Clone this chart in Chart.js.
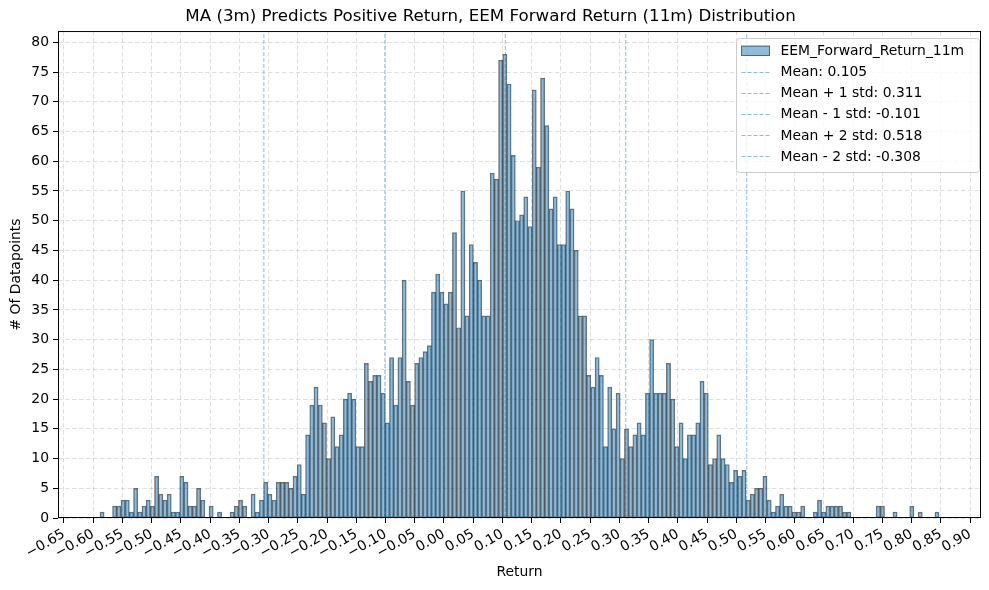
<!DOCTYPE html>
<html>
<head>
<meta charset="utf-8">
<script src="https://cdn.jsdelivr.net/npm/chart.js@4.4.1/dist/chart.umd.min.js"></script>
<style>
    html, body { margin: 0; padding: 0; background: #fff; }
    #wrap { width: 989px; height: 590px; position: relative; }
</style>
</head>
<body>
<div id="wrap"><canvas id="chart"></canvas></div>
<script>
// 直方图：200 个分箱，从最小值开始等宽
const histLabel = 'EEM_Forward_Return_11m';
const binStart = -0.5884;
const binWidth = 0.007177;
const binCounts = [
    1, 0, 0, 2, 2, 3, 3, 1, 5, 1, 2, 3, 2, 7, 4, 3, 4, 1, 1, 7,
    6, 2, 2, 5, 3, 0, 2, 0, 1, 0, 0, 1, 2, 3, 2, 0, 4, 1, 3, 6,
    4, 3, 6, 6, 6, 5, 7, 9, 4, 14, 19, 22, 19, 16, 10, 17, 12, 14, 20, 21,
    20, 12, 12, 26, 23, 24, 24, 21, 16, 27, 19, 27, 40, 23, 19, 26, 27, 28, 29, 38,
    41, 38, 36, 38, 48, 32, 55, 34, 46, 43, 40, 34, 34, 58, 57, 77, 78, 73, 61, 50,
    51, 54, 49, 72, 59, 74, 66, 52, 54, 46, 46, 55, 52, 45, 34, 34, 24, 22, 27, 24,
    12, 22, 15, 21, 10, 15, 12, 14, 16, 14, 21, 30, 21, 21, 21, 26, 20, 12, 16, 10,
    14, 14, 16, 23, 21, 9, 10, 14, 10, 9, 6, 8, 7, 8, 3, 4, 5, 5, 7, 3,
    1, 2, 4, 2, 2, 1, 1, 2, 0, 0, 1, 3, 1, 2, 2, 2, 2, 1, 1, 0,
    0, 0, 0, 0, 0, 2, 2, 0, 0, 1, 0, 0, 0, 2, 0, 1, 0, 0, 0, 1
];

// 均值和标准差线
const statNames = ['Mean', 'Mean + 1 std', 'Mean - 1 std', 'Mean + 2 std', 'Mean - 2 std'];
const statValues = [0.105, 0.311, -0.101, 0.518, -0.308];

// 坐标轴刻度
const xTicks = [-0.65, -0.60, -0.55, -0.50, -0.45, -0.40, -0.35, -0.30, -0.25, -0.20, -0.15, -0.10, -0.05,
    0.00, 0.05, 0.10, 0.15, 0.20, 0.25, 0.30, 0.35, 0.40, 0.45, 0.50, 0.55, 0.60, 0.65, 0.70, 0.75, 0.80, 0.85, 0.90];
const yTicks = [0, 5, 10, 15, 20, 25, 30, 35, 40, 45, 50, 55, 60, 65, 70, 75, 80];
const xMin = -0.6602, xMax = 0.9187;
const yMax = 81.9;

const FONT = 'DejaVu Sans';
const lineColor = 'rgba(31, 119, 180, 0.5)';

Chart.defaults.font.family = FONT;
Chart.defaults.font.size = 13.9;
Chart.defaults.color = '#000';

const histPoints = binCounts.map((c, i) => ({ x: binStart + (i + 0.5) * binWidth, y: c }));

const datasets = [{
    type: 'bar',
    label: histLabel,
    data: histPoints,
    backgroundColor: 'rgba(31, 119, 180, 0.5)',
    borderColor: 'rgba(0, 0, 0, 0.55)',
    borderWidth: 0.8,
    borderSkipped: false,
    barPercentage: 1,
    categoryPercentage: 1,
    order: 2
}];
statValues.forEach((v, i) => {
    datasets.push({
        type: 'line',
        label: statNames[i] + ': ' + v.toFixed(3),
        data: [{ x: v, y: 0 }, { x: v, y: yMax }],
        borderColor: lineColor,
        borderWidth: 1,
        borderDash: [4, 2],
        pointRadius: 0,
        fill: false,
        order: 1
    });
});

// 外框 + 图例（matplotlib 风格）
const frameLegend = {
    id: 'frameLegend',
    afterDatasetsDraw(chart) {
        const { ctx, chartArea: a } = chart;
        ctx.save();
        ctx.strokeStyle = '#000';
        ctx.lineWidth = 1;
        ctx.setLineDash([]);
        ctx.strokeRect(a.left + 0.5, a.top + 0.5, a.right - a.left - 1, a.bottom - a.top - 1);

        const lx = 736.5, ly = 38.5, lw = 243, lh = 134;
        ctx.beginPath();
        ctx.roundRect(lx, ly, lw, lh, 3);
        ctx.fillStyle = 'rgba(255, 255, 255, 0.8)';
        ctx.fill();
        ctx.strokeStyle = '#cccccc';
        ctx.stroke();

        ctx.font = '13.9px "' + FONT + '"';
        ctx.textBaseline = 'middle';
        ctx.textAlign = 'left';
        chart.data.datasets.forEach((ds, i) => {
            const cy = 50.5 + i * 21.1;
            if (ds.type === 'bar') {
                ctx.fillStyle = ds.backgroundColor;
                ctx.fillRect(741.5, cy - 4.5, 28, 9.5);
                ctx.strokeStyle = 'rgba(0, 0, 0, 0.55)';
                ctx.lineWidth = 1;
                ctx.strokeRect(741.5, cy - 4.5, 28, 9.5);
            } else {
                ctx.strokeStyle = ds.borderColor;
                ctx.lineWidth = 1;
                ctx.setLineDash([4, 2]);
                ctx.beginPath();
                ctx.moveTo(741.5, Math.round(cy) + 0.5);
                ctx.lineTo(769.5, Math.round(cy) + 0.5);
                ctx.stroke();
                ctx.setLineDash([]);
            }
            ctx.fillStyle = '#000';
            ctx.fillText(ds.label, 780.5, cy + 1);
        });
        ctx.restore();
    }
};

const fmt = v => (v < 0 ? '\u2212' : '') + Math.abs(v).toFixed(2);

new Chart(document.getElementById('chart'), {
    type: 'bar',
    data: { datasets },
    options: {
        responsive: true,
        maintainAspectRatio: false,
        animation: false,
        layout: { padding: { left: 0, right: 8, top: 0, bottom: 0 } },
        plugins: {
            legend: { display: false },
            tooltip: { enabled: false },
            title: {
                display: true,
                text: 'MA (3m) Predicts Positive Return, EEM Forward Return (11m) Distribution',
                font: { size: 16.7, weight: 'normal', family: FONT },
                color: '#000',
                padding: { top: 7, bottom: 4 }
            }
        },
        scales: {
            x: {
                type: 'linear',
                min: xMin,
                max: xMax,
                offset: false,
                grid: {
                    offset: false,
                    color: 'rgba(0, 0, 0, 0.16)',
                    lineWidth: 0.8,
                    tickColor: '#000',
                    tickLength: 5,
                    tickWidth: 1
                },
                border: { display: false, dash: [4.5, 2.5] },
                afterBuildTicks: s => { s.ticks = xTicks.map(v => ({ value: v })); },
                afterFit: s => { s.height = 72; },
                ticks: {
                    autoSkip: false,
                    minRotation: 30,
                    maxRotation: 30,
                    padding: 3,
                    color: '#000',
                    callback: v => fmt(v)
                },
                title: {
                    display: true,
                    text: 'Return',
                    color: '#000',
                    font: { size: 13.9, family: FONT },
                    padding: { top: 0, bottom: 9.6 }
                }
            },
            y: {
                min: 0,
                max: yMax,
                grid: {
                    color: 'rgba(0, 0, 0, 0.16)',
                    lineWidth: 0.8,
                    tickColor: '#000',
                    tickLength: 5,
                    tickWidth: 1
                },
                border: { display: false, dash: [4.5, 2.5] },
                afterBuildTicks: s => { s.ticks = yTicks.map(v => ({ value: v })); },
                afterFit: s => { s.width = 58; },
                ticks: { padding: 4, color: '#000' },
                title: {
                    display: true,
                    text: '# Of Datapoints',
                    color: '#000',
                    font: { size: 13.9, family: FONT },
                    padding: { top: 7.6, bottom: 0 }
                }
            }
        }
    },
    plugins: [frameLegend]
});
</script>
</body>
</html>
